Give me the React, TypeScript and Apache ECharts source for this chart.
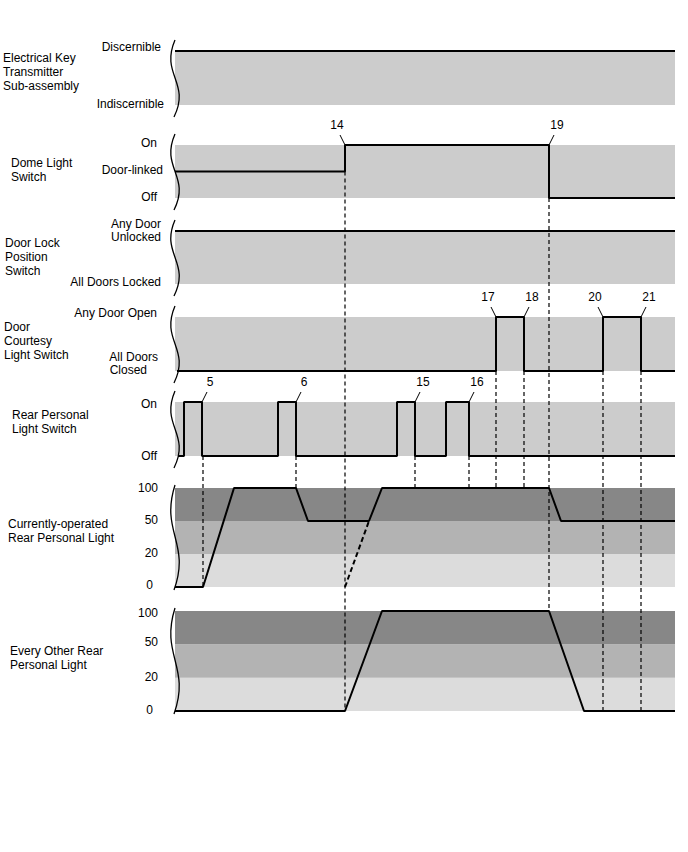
import React, { useEffect, useRef } from "react";
import * as echarts from "echarts";

// ---------------- data ----------------
const X_MIN = 0;
const X_MAX = 500;

const panelTitles = [
  "Electrical Key\nTransmitter\nSub-assembly",
  "Dome Light\nSwitch",
  "Door Lock\nPosition\nSwitch",
  "Door\nCourtesy\nLight Switch",
  "Rear Personal\nLight Switch",
  "Currently-operated\nRear Personal Light",
  "Every Other Rear\nPersonal Light",
];

const keyStates = ["Indiscernible", "Discernible"];
const keyValues = [0, 1];
const keySignal = [[0, 1], [500, 1]];

const domeStates = ["Off", "Door-linked", "On"];
const domeValues = [0, 0.5, 1];
const domeSignal = [[0, 0.5], [170, 1], [374, 0], [500, 0]];

const lockStates = ["All Doors Locked", "Any Door\nUnlocked"];
const lockValues = [0, 1];
const lockSignal = [[0, 1], [500, 1]];

const courtesyStates = ["All Doors\nClosed", "Any Door Open"];
const courtesyValues = [0, 1];
const courtesySignal = [[2, 0], [321, 1], [349, 0], [428, 1], [466, 0], [500, 0]];

const rearSwitchStates = ["Off", "On"];
const rearSwitchValues = [0, 1];
const rearSwitchSignal = [
  [3, 0], [9, 1], [27, 0], [103, 1], [121, 0], [222, 1], [240, 0], [271, 1], [294, 0], [500, 0],
];

const brightnessTicks = [0, 20, 50, 100];
const currentLight = [
  [0, 0], [28, 0], [59, 100], [121, 100], [133, 50], [194, 50], [207, 100], [374, 100], [386, 50], [500, 50],
];
const currentLightHidden = [[170, 0], [194, 50]];
const otherLight = [[0, 0], [170, 0], [207, 100], [374, 100], [409, 0], [500, 0]];

// event markers: label, panel, time, value, side (-1 left, 1 right)
const markers: [string, number, number, number, number][] = [
  ["5", 4, 27, 1, 1],
  ["6", 4, 121, 1, 1],
  ["15", 4, 240, 1, 1],
  ["16", 4, 294, 1, 1],
  ["14", 1, 170, 1, -1],
  ["19", 1, 374, 1, 1],
  ["17", 3, 321, 1, -1],
  ["18", 3, 349, 1, 1],
  ["20", 3, 428, 1, -1],
  ["21", 3, 466, 1, 1],
];

// guide lines: time, fromPanel, fromValue, toPanel, toValue
const guides: [number, number, number, number, number][] = [
  [28, 4, 0, 5, 0],
  [121, 4, 0, 5, 100],
  [170, 1, 0.5, 6, 0],
  [240, 4, 0, 5, 100],
  [294, 4, 0, 5, 100],
  [321, 3, 0, 5, 100],
  [349, 3, 0, 5, 100],
  [374, 1, 0, 6, 100],
  [428, 3, 0, 6, 0],
  [466, 3, 0, 6, 0],
];

// ---------------- layout / style ----------------
const FONT_FAMILY = '"Liberation Sans", Arial, Helvetica, sans-serif';
const FONT = `12px ${FONT_FAMILY}`;
const GRID_LEFT = 175;
const GRID_RIGHT = 13;
const GRID_TOPS = [51, 145, 231, 317, 402, 488, 611];
const GRID_HEIGHTS = [54, 53, 53, 54, 54, 99, 100];
const TITLE_POS = [[3, 72], [11, 170], [5, 256.5], [4, 341], [12, 422], [8, 530.5], [10, 658]];
const LABEL_MARGINS = [11, 12, 14, 17, 18, 17, 17];
// per panel, per tick: [shiftUp, padRight line1, padRight line2 ...]
const LABEL_TWEAKS: number[][][] = [
  [[1, 0], [4, 3]],
  [[1, 6], [1.5, 0], [2, 6]],
  [[2, 0], [1, 0, 0]],
  [[8, 0, 11], [4, 1]],
  [[0, 0], [-2, 0]],
  [[2, 5], [1, 0], [1, 0], [0, 0]],
  [[1, 5], [1, 0], [2, 0], [-2, 0]],
];
const SWITCH_BAND = "#cccccc";
const LEVEL_BANDS = ["#dcdcdc", "#b3b3b3", "#878787"];

const toLevel = (p: number) => brightnessTicks.indexOf(p);

type Panel = { labels: string[]; values: number[]; signal: number[][]; step: boolean; level: boolean };
const panels: Panel[] = [
  { labels: keyStates, values: keyValues, signal: keySignal, step: true, level: false },
  { labels: domeStates, values: domeValues, signal: domeSignal, step: true, level: false },
  { labels: lockStates, values: lockValues, signal: lockSignal, step: true, level: false },
  { labels: courtesyStates, values: courtesyValues, signal: courtesySignal, step: true, level: false },
  { labels: rearSwitchStates, values: rearSwitchValues, signal: rearSwitchSignal, step: true, level: false },
  {
    labels: brightnessTicks.map(String), values: [0, 1, 2, 3],
    signal: currentLight.map(([t, p]) => [t, toLevel(p)]), step: false, level: true,
  },
  {
    labels: brightnessTicks.map(String), values: [0, 1, 2, 3],
    signal: otherLight.map(([t, p]) => [t, toLevel(p)]), step: false, level: true,
  },
];

const panelValue = (panel: number, v: number) => (panels[panel].level ? toLevel(v) : v);

function buildRich(pi: number) {
  const rich: Record<string, any> = {};
  const p = panels[pi];
  p.labels.forEach((lab, ti) => {
    const lines = lab.split("\n");
    const tw = LABEL_TWEAKS[pi][ti];
    lines.forEach((_, li) => {
      rich[`t${ti}l${li}`] = {
        fontSize: 12,
        fontFamily: FONT_FAMILY,
        color: "#000",
        lineHeight: 13,
        padding: [0, tw[1 + li] || 0, 0, 0],
      };
    });
    const up = tw[0];
    if (up !== 0) {
      rich[`t${ti}sp`] = { fontSize: 1, lineHeight: Math.abs(up) * 2, color: "rgba(0,0,0,0)" };
    }
  });
  return rich;
}

function formatLabel(pi: number, ti: number) {
  const p = panels[pi];
  const up = LABEL_TWEAKS[pi][ti][0];
  const lines = p.labels[ti].split("\n").map((l, li) => `{t${ti}l${li}|${l}}`);
  if (up > 0) lines.push(`{t${ti}sp| }`);
  if (up < 0) lines.unshift(`{t${ti}sp| }`);
  return lines.join("\n");
}

export default function App() {
  const ref = useRef<HTMLDivElement>(null);

  useEffect(() => {
    const el = ref.current!;
    const chart = echarts.init(el, null, { renderer: "svg" });

    const grids = GRID_TOPS.map((top, i) => ({
      left: GRID_LEFT, right: GRID_RIGHT, top, height: GRID_HEIGHTS[i], containLabel: false,
    }));
    const xAxes = panels.map((_, i) => ({
      type: "value", gridIndex: i, min: X_MIN, max: X_MAX, show: false,
    }));
    const yAxes = panels.map((p, i) => {
      const vmax = p.values[p.values.length - 1];
      const interval = p.values[1] - p.values[0];
      return {
        type: "value", gridIndex: i, min: 0, max: vmax, interval,
        axisLine: { show: false }, axisTick: { show: false }, splitLine: { show: false },
        axisLabel: {
          show: true, margin: LABEL_MARGINS[i], align: "right", verticalAlign: "middle",
          fontSize: 12, fontFamily: FONT_FAMILY, color: "#000",
          formatter: (v: number) => {
            const ti = p.values.indexOf(Math.round(v * 1000) / 1000);
            if (ti < 0) return "";
            return formatLabel(i, ti);
          },
          rich: buildRich(i),
        },
      };
    });

    const series: any[] = panels.map((p, i) => {
      const bands = p.level
        ? LEVEL_BANDS.map((c, k) => [
            { xAxis: X_MIN, yAxis: k, itemStyle: { color: c } },
            { xAxis: X_MAX, yAxis: k + 1 },
          ])
        : [[{ xAxis: X_MIN, yAxis: 0, itemStyle: { color: SWITCH_BAND } }, { xAxis: X_MAX, yAxis: p.values[p.values.length - 1] }]];
      return {
        type: "line",
        xAxisIndex: i, yAxisIndex: i,
        data: p.signal,
        step: p.step ? "end" : false,
        symbol: "none",
        clip: false,
        z: 5,
        lineStyle: { color: "#000", width: 2 },
        markArea: { silent: true, z: 1, label: { show: false }, itemStyle: { borderWidth: 0 }, data: bands },
      };
    });
    series.push({
      type: "line",
      xAxisIndex: 5, yAxisIndex: 5,
      data: currentLightHidden.map(([t, pv]) => [t, toLevel(pv)]),
      symbol: "none", clip: false, z: 5,
      lineStyle: { color: "#000", width: 2, type: [5, 3] },
    });

    chart.setOption({
      animation: false,
      backgroundColor: "#ffffff",
      grid: grids,
      xAxis: xAxes,
      yAxis: yAxes,
      series,
    });

    const toPx = (panel: number, t: number, v: number) =>
      chart.convertToPixel({ xAxisIndex: panel, yAxisIndex: panel } as any, [t, panelValue(panel, v)]) as number[];

    const els: any[] = [];
    panelTitles.forEach((text, i) => {
      els.push({
        type: "text", x: TITLE_POS[i][0], y: TITLE_POS[i][1], z: 100,
        style: { text, fill: "#000", font: FONT, lineHeight: 14, align: "left", verticalAlign: "middle" },
      });
    });
    GRID_TOPS.forEach((top, i) => {
      const ov = i < 5 ? [11, 12] : [3, 3];
      const y0 = top - ov[0];
      const y1 = top + GRID_HEIGHTS[i] + ov[1];
      const H = y1 - y0;
      els.push({
        type: "bezierCurve", z: 100,
        shape: { x1: GRID_LEFT, y1: y0, cpx1: GRID_LEFT - 15, cpy1: y0 + 0.45 * H, cpx2: GRID_LEFT + 16, cpy2: y0 + 0.55 * H, x2: GRID_LEFT - 1, y2: y1 },
        style: { stroke: "#000", lineWidth: 1.3, fill: "none" },
      });
    });
    guides.forEach(([t, pa, va, pb, vb]) => {
      const a = toPx(pa, t, va);
      const b = toPx(pb, t, vb);
      els.push({
        type: "line", z: 90,
        shape: { x1: a[0], y1: a[1], x2: b[0], y2: b[1] },
        style: { stroke: "#000", lineWidth: 1.2, lineDash: [4, 3] },
      });
    });
    markers.forEach(([label, panel, t, v, side]) => {
      const c = toPx(panel, t, v);
      els.push({
        type: "line", z: 100,
        shape: { x1: c[0], y1: c[1], x2: c[0] + side * 5, y2: c[1] - 10 },
        style: { stroke: "#000", lineWidth: 1 },
      });
      els.push({
        type: "text", z: 100, x: c[0] + side * 8, y: c[1] - 20,
        style: { text: label, fill: "#000", font: FONT, align: "center", verticalAlign: "middle" },
      });
    });

    chart.setOption({ graphic: { elements: els } });

    return () => chart.dispose();
  }, []);

  return (
    <div
      ref={ref}
      style={{ position: "fixed", left: 0, top: 0, width: 688, height: 852, background: "#fff" }}
    />
  );
}
